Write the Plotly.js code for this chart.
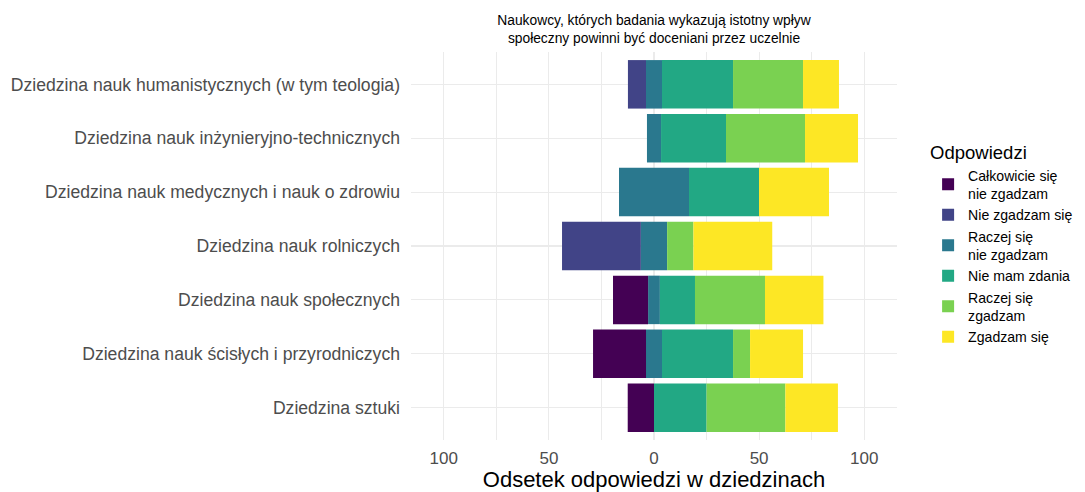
<!DOCTYPE html>
<html>
<head>
<meta charset="utf-8">
<script src="https://cdn.plot.ly/plotly-3.0.1.min.js"></script>
<style>html,body{margin:0;padding:0;background:#fff;}#chart{width:1085px;height:492px;}</style>
</head>
<body>
<div id="chart"></div>
<script>
// Categories, top to bottom as in the chart
const categories = [
  "Dziedzina nauk humanistycznych (w tym teologia)",
  "Dziedzina nauk inżynieryjno-technicznych",
  "Dziedzina nauk medycznych i nauk o zdrowiu",
  "Dziedzina nauk rolniczych",
  "Dziedzina nauk społecznych",
  "Dziedzina nauk ścisłych i przyrodniczych",
  "Dziedzina sztuki"
];
// Percent of answers per category
const calkowicieNie = [0, 0, 0, 0, 16.7, 25.2, 12.5];
const nieZgadzam    = [8.6, 0, 0, 37.5, 0, 0, 0];
const raczejNie     = [7.6, 6.7, 33.3, 12.5, 5.6, 7.6, 0];
const nieMamZdania  = [33.8, 30.9, 33.3, 0, 16.7, 33.8, 25.0];
const raczejTak     = [33.3, 37.6, 0, 12.5, 33.3, 8.1, 37.5];
const zgadzam       = [17.1, 25.2, 33.3, 37.5, 27.8, 25.2, 25.0];

const responseNames = [
  "Całkowicie się<br>nie zgadzam",
  "Nie zgadzam się",
  "Raczej się<br>nie zgadzam",
  "Nie mam zdania",
  "Raczej się<br>zgadzam",
  "Zgadzam się"
];
const colors = ["#440154", "#414487", "#2A788E", "#22A884", "#7AD151", "#FDE725"];

const xTickVals = [-100, -50, 0, 50, 100];
const xTickText = ["100", "50", "0", "50", "100"];
const xMinorVals = [-75, -25, 25, 75];

function bar(vals, idx, opts) {
  return Object.assign({
    type: "bar",
    orientation: "h",
    y: categories,
    x: vals,
    name: responseNames[idx],
    legendgroup: "g" + idx,
    legendrank: idx + 1,
    marker: {color: colors[idx], line: {width: 0}},
    width: 0.9,
    hoverinfo: "x+y+name"
  }, opts || {});
}

const neg = a => a.map(v => -v);
const half = a => a.map(v => v / 2);

const traces = [
  // negative side, stacked outward from zero
  bar(neg(half(raczejNie)), 2, {showlegend: false}),
  bar(neg(nieZgadzam), 1),
  bar(neg(calkowicieNie), 0),
  // positive side
  bar(half(raczejNie), 2),
  bar(nieMamZdania, 3),
  bar(raczejTak, 4),
  bar(zgadzam, 5)
];

const gridColor = "#EBEBEB";
const layout = {
  width: 1085,
  height: 492,
  margin: {l: 411, r: 188, t: 52, b: 52, autoexpand: false},
  paper_bgcolor: "#ffffff",
  plot_bgcolor: "#ffffff",
  barmode: "relative",
  bargap: 0.1,
  font: {family: "Liberation Sans, Arial, sans-serif", color: "#4D4D4D"},
  title: {
    text: "Naukowcy, których badania wykazują istotny wpływ<br>społeczny powinni być doceniani przez uczelnie",
    font: {size: 13.8, color: "#000000"},
    x: 0.5, xref: "paper", xanchor: "center",
    y: 0.949, yref: "container", yanchor: "top"
  },
  xaxis: {
    range: [-115.6, 115.6],
    tickmode: "array",
    tickvals: xTickVals,
    ticktext: xTickText,
    tickfont: {size: 17, color: "#4D4D4D"},
    showgrid: true, gridcolor: gridColor, gridwidth: 1.1,
    minor: {tickvals: xMinorVals, showgrid: true, gridcolor: gridColor, gridwidth: 1},
    zeroline: false,
    showline: false, ticks: "", ticklabelstandoff: 6,
    title: {text: "Odsetek odpowiedzi w dziedzinach", font: {size: 22, color: "#000000"}, standoff: 2},
    fixedrange: true
  },
  yaxis: {
    type: "category",
    categoryorder: "array",
    categoryarray: categories.slice().reverse(),
    range: [-0.6, 6.6],
    tickfont: {size: 17.6, color: "#4D4D4D"},
    showgrid: true, gridcolor: gridColor, gridwidth: 1.1,
    ticks: "", ticklabelstandoff: 10,
    zeroline: false, showline: false,
    fixedrange: true
  },
  shapes: [{
    type: "line", layer: "below",
    xref: "x", x0: 0, x1: 0,
    yref: "paper", y0: 0, y1: 1,
    line: {color: "#000000", width: 1.6}
  }],
  legend: {
    x: 1.064, xanchor: "left",
    y: 0.785, yanchor: "top",
    traceorder: "normal",
    title: {text: "Odpowiedzi", font: {size: 18.5, color: "#000000"}},
    font: {size: 14.1, color: "#000000"},
    itemwidth: 30,
    tracegroupgap: 0,
    bgcolor: "rgba(0,0,0,0)"
  },
  showlegend: true
};

Plotly.newPlot("chart", traces, layout, {displayModeBar: false, staticPlot: true});
</script>
</body>
</html>
